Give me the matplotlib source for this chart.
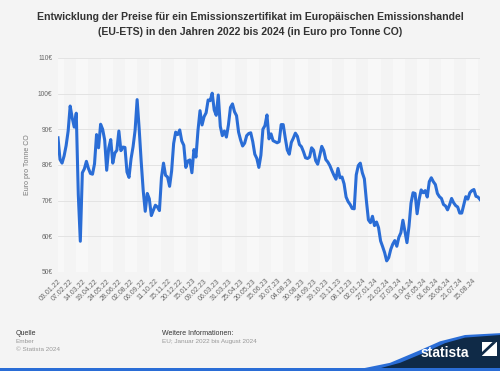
import matplotlib
matplotlib.use("Agg")
import matplotlib.pyplot as plt
from matplotlib.patches import Polygon, Rectangle

plt.rcParams['font.family'] = ['Liberation Sans', 'DejaVu Sans']

# EU-ETS price, Euro per tonne (evenly spaced samples)
prices = [
    87.6, 81.5, 80.5, 82.5, 85.4, 89.5, 96.5, 93.2, 90.6, 94.5,
    71.7, 58.6, 77.8, 78.9, 81.0, 79.0, 77.6, 77.4, 80.3, 88.5,
    84.8, 91.4, 90.0, 87.0, 78.5, 84.7, 87.1, 80.5, 83.3, 84.1,
    89.5, 84.0, 85.0, 84.9, 78.0, 76.5, 81.7, 85.1, 89.7, 98.3,
    90.2, 81.0, 72.8, 67.0, 72.0, 70.5, 65.8, 67.3, 68.7, 68.2,
    67.2, 76.5, 80.5, 77.1, 76.6, 74.0, 78.3, 86.0, 89.2, 88.5,
    89.8, 86.7, 85.5, 79.3, 81.1, 81.4, 77.8, 84.3, 82.2, 89.7,
    95.2, 91.2, 93.5, 94.6, 98.2, 98.0, 100.1, 95.4, 93.9, 99.6,
    90.8, 88.2, 89.5, 87.8, 91.2, 96.1, 97.1, 94.9, 93.8, 89.2,
    87.0, 85.3, 86.1, 88.2, 88.8, 89.0, 86.5, 83.0, 81.8, 79.3,
    82.7, 90.0, 91.0, 94.0, 87.3, 88.7, 86.8, 86.5, 86.2, 86.5,
    91.3, 91.3, 87.6, 84.2, 83.0, 86.3, 87.5, 88.9, 88.0, 85.7,
    85.1, 83.7, 82.0, 81.8, 82.2, 84.8, 84.1, 81.2, 80.2, 82.6,
    85.2, 84.0, 81.5, 80.8, 79.8, 78.4, 77.1, 76.0, 79.0, 76.4,
    76.6, 74.7, 71.0, 69.7, 68.9, 67.8, 67.7, 77.2, 79.8, 80.5,
    77.8, 76.1, 70.0, 64.6, 63.8, 65.6, 63.0, 64.0, 62.4, 58.7,
    57.1, 55.4, 53.1, 54.0, 56.3, 57.8, 58.8, 57.2, 59.7, 61.0,
    64.5, 61.4, 58.2, 62.8, 69.3, 72.2, 72.0, 66.3, 70.3, 73.0,
    72.2, 72.8, 71.0, 75.3, 76.4, 75.3, 74.5, 72.0, 71.1, 70.6,
    68.9, 68.5, 67.4, 68.8, 70.6, 69.4, 68.6, 68.2, 66.5, 66.5,
    68.8, 71.1, 70.4, 72.2, 72.8, 73.1, 71.2, 71.0, 70.3,
]

date_labels = [
    "03.01.22", "07.02.22", "14.03.22", "19.04.22", "24.05.22", "28.06.22",
    "02.08.22", "06.09.22", "11.10.22", "15.11.22", "20.12.22", "15.01.23",
    "09.02.23", "06.03.23", "31.03.23", "25.04.23", "20.05.23", "15.06.23",
    "10.07.23", "04.08.23", "30.08.23", "24.09.23", "19.10.23", "13.11.23",
    "08.12.23", "02.01.24", "27.01.24", "21.02.24", "17.03.24", "11.04.24",
    "07.05.24", "01.06.24", "26.06.24", "21.07.24", "15.08.24",
]
label_step = 6  # samples between two date labels

y_ticks = [50, 60, 70, 80, 90, 100, 110]

bg = "#f4f4f4"
navy = "#0f2a47"
blue = "#2a6dd6"

fig = plt.figure(figsize=(5, 3.71), dpi=100, facecolor=bg)
ax = fig.add_axes([0.116, 0.267, 0.844, 0.577])
ax.set_facecolor(bg)

x = list(range(len(prices)))
tick_pos = [i * label_step for i in range(len(date_labels))]

# alternating vertical stripes
for k, t in enumerate(tick_pos):
    if k % 2 == 0:
        ax.axvspan(t - label_step / 2, t + label_step / 2, color="#f8f8f8", lw=0, zorder=0)

for v in y_ticks:
    ax.axhline(v, color="#e0e0e0", lw=0.6, zorder=1)

ax.plot(x, prices, color=blue, lw=2.2, solid_joinstyle="round", zorder=3)

ax.set_xlim(0, len(prices) - 1)
ax.set_ylim(50, 110)
ax.set_yticks(y_ticks)
ax.set_yticklabels([f"{v}€" for v in y_ticks], fontsize=4.8, color="#666666")
ax.set_xticks(tick_pos)
ax.set_xticklabels(date_labels, rotation=45, ha="right", rotation_mode="anchor",
                   fontsize=5, color="#666666")
ax.tick_params(length=0, pad=4)
for s in ax.spines.values():
    s.set_visible(False)
ax.set_ylabel("Euro pro Tonne CO", fontsize=5, color="#777777", labelpad=5)

fig.text(0.5, 0.967, "Entwicklung der Preise für ein Emissionszertifikat im Europäischen Emissionshandel\n"
         "(EU-ETS) in den Jahren 2022 bis 2024 (in Euro pro Tonne CO)",
         ha="center", va="top", fontsize=7.6, fontweight="bold", color="#333333",
         linespacing=1.6)

# footer
fig.text(0.032, 0.098, "Quelle", fontsize=5, color="#333333")
fig.text(0.032, 0.075, "Ember", fontsize=4.6, color="#999999")
fig.text(0.032, 0.053, "© Statista 2024", fontsize=4.6, color="#999999")
fig.text(0.323, 0.098, "Weitere Informationen:", fontsize=5, color="#333333")
fig.text(0.323, 0.075, "EU; Januar 2022 bis August 2024", fontsize=4.6, color="#999999")

# statista badge
edge = Polygon([(0.70, 0.0), (0.78, 0.022), (0.84, 0.056), (0.88, 0.08), (0.93, 0.097),
                (1.0, 0.102), (1.0, 0.0)],
               closed=True, transform=fig.transFigure, facecolor=blue, edgecolor="none")
fig.patches.append(edge)
swoosh = Polygon([(0.74, 0.0), (0.80, 0.022), (0.85, 0.05), (0.89, 0.075), (0.93, 0.09),
                  (1.0, 0.097), (1.0, 0.0)], closed=True, transform=fig.transFigure,
                 facecolor=navy, edgecolor="none")
fig.patches.append(swoosh)
fig.patches.append(Rectangle((0, 0), 1, 0.008, transform=fig.transFigure,
                             facecolor=blue, edgecolor="none"))
fig.text(0.842, 0.038, "statista", fontsize=10, color="white", fontweight="bold")
fig.patches.append(Polygon([(0.963, 0.04), (0.993, 0.04), (0.993, 0.078), (0.963, 0.078)],
                           closed=True, transform=fig.transFigure, facecolor="white",
                           edgecolor="none"))
fig.patches.append(Polygon([(0.963, 0.04), (0.993, 0.078), (0.985, 0.078), (0.963, 0.05)],
                           closed=True, transform=fig.transFigure, facecolor=navy,
                           edgecolor="none"))

fig.savefig("out.png", dpi=100, facecolor=bg)
